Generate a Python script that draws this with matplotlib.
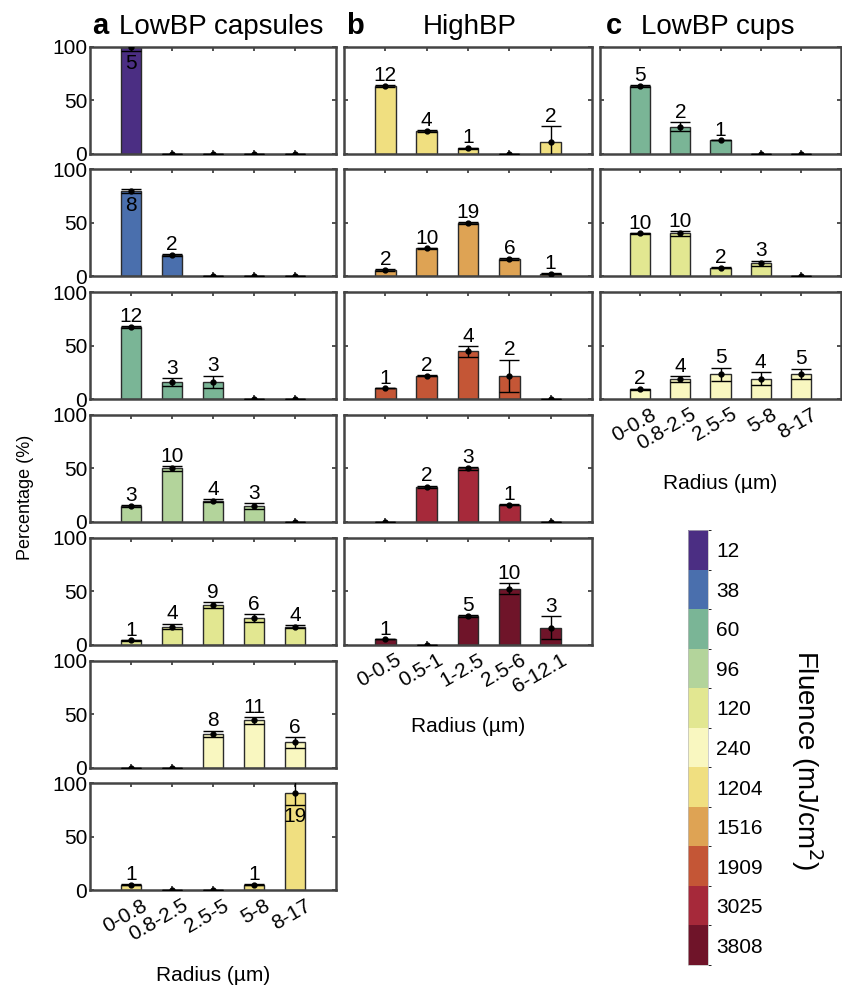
import matplotlib
matplotlib.use("Agg")
import matplotlib.pyplot as plt
from matplotlib.colors import ListedColormap, BoundaryNorm
from matplotlib.colorbar import ColorbarBase
from matplotlib.transforms import ScaledTranslation

plt.rcParams['font.family'] = ['Liberation Sans', 'DejaVu Sans']

# --- data -------------------------------------------------------------
radius_a = ['0-0.8', '0.8-2.5', '2.5-5', '5-8', '8-17']
radius_b = ['0-0.5', '0.5-1', '1-2.5', '2.5-6', '6-12.1']
radius_c = ['0-0.8', '0.8-2.5', '2.5-5', '5-8', '8-17']

fluence_levels = [12, 38, 60, 96, 120, 240, 1204, 1516, 1909, 3025, 3808]
fluence_colors = ['#4b2e83', '#4a6fad', '#7ab596', '#b3d49b', '#e2e791', '#f9f7c0',
                  '#f0df80', '#dea354', '#c45636', '#a6293a', '#6f1429']

# a: LowBP capsules
fluence_a = [12, 38, 60, 96, 120, 240, 1204]
pct_a = [[100, 0, 0, 0, 0],
         [80, 20, 0, 0, 0],
         [67, 16, 16, 0, 0],
         [15, 50, 20, 15, 0],
         [4, 17, 37, 25, 17],
         [0, 0, 31.5, 44, 23.5],
         [5, 0, 0, 5, 91]]
err_a = [[4, 0, 0, 0, 0],
         [2, 1, 0, 0, 0],
         [1, 4, 6, 0, 0],
         [1, 2.5, 1.5, 2.5, 0],
         [0.5, 2.7, 3, 3.6, 1],
         [0, 0, 3, 3.4, 5],
         [0.5, 0, 0, 0.5, 11]]
n_a = [[5, 0, 0, 0, 0],
       [8, 2, 0, 0, 0],
       [12, 3, 3, 0, 0],
       [3, 10, 4, 3, 0],
       [1, 4, 9, 6, 4],
       [0, 0, 8, 11, 6],
       [1, 0, 0, 1, 19]]

# b: HighBP
fluence_b = [1204, 1516, 1909, 3025, 3808]
pct_b = [[63, 21, 5, 0, 10.5],
         [5.5, 26, 50, 16, 2.5],
         [10, 22, 44.5, 22, 0],
         [0, 33, 50, 16, 0],
         [5, 0, 26.5, 52.5, 16]]
err_b = [[1, 1, 0.5, 0, 15.5],
         [1, 0.5, 1, 1, 0.5],
         [0, 0.5, 5, 15, 0],
         [0, 1, 1.5, 0.5, 0],
         [0, 0, 1, 5, 11]]
n_b = [[12, 4, 1, 0, 2],
       [2, 10, 19, 6, 1],
       [1, 2, 4, 2, 0],
       [0, 2, 3, 1, 0],
       [1, 0, 5, 10, 3]]

# c: LowBP cups
fluence_c = [60, 120, 240]
pct_c = [[63, 25, 12.5, 0, 0],
         [40, 40, 8, 12, 0],
         [9, 18.5, 23, 19, 23.5]]
err_c = [[1, 4, 0, 0, 0],
         [0.5, 2, 0.5, 2.7, 0],
         [0.8, 2.8, 6.4, 6, 5]]
n_c = [[5, 2, 1, 0, 0],
       [10, 10, 2, 3, 0],
       [2, 4, 5, 4, 5]]

# --- layout (pixels) -------------------------------------------------
W, H = 842, 990
col_x = [(90, 336), (344, 592), (600, 841)]
row_top0, row_pitch, row_h = 46.5, 122.8, 107
FS = 15

fig = plt.figure(figsize=(W / 100, H / 100), dpi=100)


def px_axes(x0, x1, top, h):
    return fig.add_axes([x0 / W, 1 - (top + h) / H, (x1 - x0) / W, h / H])


def draw_panel(ax, vals, errs, counts, color, labels, show_y, show_x):
    xs = list(range(1, len(vals) + 1))
    ax.bar(xs, vals, width=0.5, color=color, edgecolor='#2b2b2b', linewidth=1, zorder=2)
    ax.errorbar(xs, vals, yerr=errs, fmt='o', color='k', ms=3.5, capsize=7,
                elinewidth=1, capthick=1, zorder=3)
    for x, v, e, n in zip(xs, vals, errs, counts):
        if n == 0:
            continue
        if v + e > 75:
            ax.annotate(str(n), (x, v - e), xytext=(0, -2), textcoords='offset points',
                        ha='center', va='top', fontsize=FS)
        else:
            ax.annotate(str(n), (x, v + e), xytext=(0, 3), textcoords='offset points',
                        ha='center', va='baseline', fontsize=FS)
    ax.set_xlim(0, 6)
    ax.set_ylim(0, 100)
    ax.set_xticks(xs)
    ax.set_yticks([0, 50, 100])
    ax.tick_params(direction='in', top=True, right=True, length=3, width=1.2,
                   color='#333333', labelsize=FS, pad=2)
    for s in ax.spines.values():
        s.set_color('#444444')
        s.set_linewidth(1.8)
    if not show_y:
        ax.set_yticklabels([])
    if show_x:
        ax.set_xticklabels(labels, rotation=30, ha='right', rotation_mode='anchor',
                           fontsize=FS)
        shift = ScaledTranslation(7 / 72, -2 / 72, fig.dpi_scale_trans)
        for lab in ax.get_xticklabels():
            lab.set_transform(lab.get_transform() + shift)
        ax.set_xlabel('Radius (µm)', fontsize=FS, labelpad=15)
    else:
        ax.set_xticklabels([])


columns = [
    (fluence_a, pct_a, err_a, n_a, radius_a),
    (fluence_b, pct_b, err_b, n_b, radius_b),
    (fluence_c, pct_c, err_c, n_c, radius_c),
]

for ci, (flu, pct, err, cnt, labels) in enumerate(columns):
    x0, x1 = col_x[ci]
    for ri in range(len(flu)):
        ax = px_axes(x0, x1, row_top0 + ri * row_pitch, row_h)
        color = fluence_colors[fluence_levels.index(flu[ri])]
        draw_panel(ax, pct[ri], err[ri], cnt[ri], color, labels,
                   show_y=(ci == 0), show_x=(ri == len(flu) - 1))

# titles
fig.text(92 / W, 1 - 34 / H, 'a', fontsize=21, fontweight='bold', va='baseline')
fig.text(221 / W, 1 - 34 / H, 'LowBP capsules', fontsize=20, ha='center', va='baseline')
fig.text(346 / W, 1 - 34 / H, 'b', fontsize=21, fontweight='bold', va='baseline')
fig.text(470 / W, 1 - 34 / H, 'HighBP', fontsize=20, ha='center', va='baseline')
fig.text(606 / W, 1 - 34 / H, 'c', fontsize=21, fontweight='bold', va='baseline')
fig.text(718 / W, 1 - 34 / H, 'LowBP cups', fontsize=20, ha='center', va='baseline')

fig.text(25 / W, 1 - 497 / H, 'Percentage (%)', fontsize=13, rotation=90,
         ha='center', va='center')

# colorbar
cax = px_axes(688, 708, 530, 435)
cmap = ListedColormap(fluence_colors[::-1])
norm = BoundaryNorm(list(range(len(fluence_levels) + 1)), cmap.N)
cb = ColorbarBase(cax, cmap=cmap, norm=norm, orientation='vertical')
cb.set_ticks([i + 0.5 for i in range(len(fluence_levels))])
cb.set_ticklabels([str(v) for v in fluence_levels[::-1]])
cb.ax.tick_params(length=0, labelsize=FS, pad=6)
cb.outline.set_linewidth(0.5)
cb.outline.set_edgecolor('#bbbbbb')
fig.text(807 / W, 1 - 760 / H, 'Fluence (mJ/cm$^2$)', fontsize=20, rotation=270,
         ha='center', va='center')

fig.savefig('out.png', dpi=100)
